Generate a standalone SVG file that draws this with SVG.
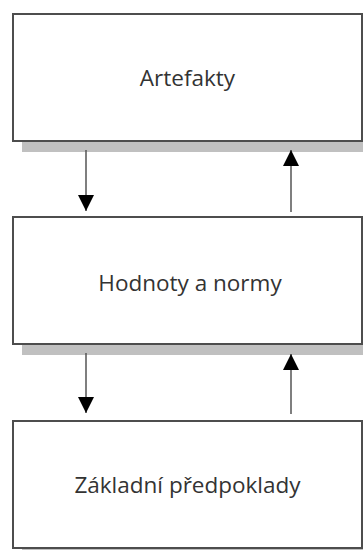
<svg xmlns="http://www.w3.org/2000/svg" width="363" height="552" viewBox="0 0 363 552">
  <style>
    .shadow { fill: #c0c0c0; }
    .box { fill: #ffffff; stroke: #4d4d4d; stroke-width: 2; }
    .label { font-family: "Open Sans", "Liberation Sans", sans-serif; font-size: 22.5px; fill: #333333; text-anchor: middle; }
    .conn { stroke: #555555; stroke-width: 1.5; fill: none; marker-end: url(#arrow); }
  </style>
  <defs>
    <marker id="arrow" markerUnits="userSpaceOnUse" markerWidth="16" markerHeight="17" refX="16" refY="8" orient="auto">
      <path d="M0,0 L16,8 L0,16 Z" fill="#000000"/>
    </marker>
  </defs>
  <rect width="363" height="552" fill="#ffffff"/>

  <g id="node-artefakty">
    <rect class="shadow" x="22" y="25" width="350" height="127"/>
    <rect class="box" x="13" y="14" width="349" height="127"/>
    <text class="label" x="187.5" y="86">Artefakty</text>
  </g>

  <g id="node-hodnoty">
    <rect class="shadow" x="22" y="228" width="350" height="127"/>
    <rect class="box" x="13" y="217" width="349" height="127"/>
    <text class="label" x="190" y="291">Hodnoty a normy</text>
  </g>

  <g id="node-predpoklady">
    <rect class="shadow" x="22" y="424" width="350" height="126"/>
    <rect class="box" x="13" y="421" width="349" height="127"/>
    <text class="label" x="187.5" y="493">Základní předpoklady</text>
  </g>

  <g id="connectors">
    <path class="conn" d="M86,150 L86,211"/>
    <path class="conn" d="M291,212 L291,150"/>
    <path class="conn" d="M86,353 L86,413"/>
    <path class="conn" d="M291,414 L291,354"/>
  </g>
</svg>
